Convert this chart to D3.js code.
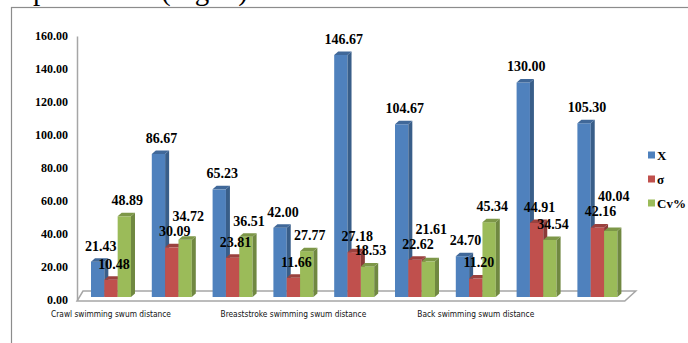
<!DOCTYPE html>
<html>
<head>
<meta charset="utf-8">
<script src="https://cdn.jsdelivr.net/npm/d3@7/dist/d3.min.js"></script>
<style>
  html, body { margin: 0; padding: 0; background: #fff; }
  svg { display: block; }
</style>
</head>
<body>
<svg id="chart" width="688" height="343"></svg>
<script>
// ---------- data ----------
const categories = [
  "Crawl swimming swum distance", "", "",
  "Breaststroke swimming swum distance", "", "",
  "Back swimming swum distance", "", ""
];
const seriesNames = ["X", "σ", "Cv%"];
const meanValues  = [21.43, 86.67, 65.23, 42.00, 146.67, 104.67, 24.70, 130.00, 105.30];
const sigmaValues = [10.48, 30.09, 23.81, 11.66, 27.18, 22.62, 11.20, 44.91, 42.16];
const cvValues    = [48.89, 34.72, 36.51, 27.77, 18.53, 21.61, 45.34, 34.54, 40.04];
const yTicks = [0, 20, 40, 60, 80, 100, 120, 140, 160];
const seriesColors = ["#4F81BD", "#C0504D", "#9BBB59"];

const seriesValues = [meanValues, sigmaValues, cvValues];

// ---------- setup ----------
const svg = d3.select("#chart");
const serif = "'Liberation Serif', 'Times New Roman', serif";

// page text fragment (cropped line above the chart)
svg.append("text").attr("x", 33).attr("y", 0)
  .attr("font-family", serif).attr("font-size", 29).text("presented");
svg.append("text").attr("x", 161).attr("y", 0)
  .attr("font-family", serif).attr("font-size", 29).text("(Fig. 3)");

// chart frame
svg.append("rect")
  .attr("x", 11.5).attr("y", 7.5).attr("width", 720).attr("height", 400)
  .attr("fill", "none").attr("stroke", "#8c8c8c").attr("stroke-width", 1.2);

const y = d3.scaleLinear().domain([0, 160]).range([300, 36]);
const x0 = d3.scaleBand().domain(d3.range(categories.length))
  .range([80.6, 627.8]).paddingInner(0.342).paddingOuter(0.171);
const x1 = d3.scaleBand().domain(d3.range(seriesNames.length))
  .range([0, x0.bandwidth()]);

const depthX = 4, depthY = -3.5, lift = 3;

// floor
const r = x0.range();
const floorPts = [
  [r[0] - 3.6, y(0) + 1], [r[1] - 3, y(0) + 1],
  [r[1] + 8, y(0) - 9], [r[0] + 2.4, y(0) - 9]
];
svg.append("polygon")
  .attr("points", floorPts.map(p => p.join(",")).join(" "))
  .attr("fill", "#fff").attr("stroke", "#a6a6a6").attr("stroke-width", 1.5);

// value axis
const yAxis = svg.append("g")
  .attr("transform", "translate(77,0)")
  .call(d3.axisLeft(y).tickValues(yTicks).tickFormat(d3.format(".2f"))
    .tickSize(0).tickPadding(9));
yAxis.select(".domain").attr("stroke", "#a6a6a6").attr("stroke-width", 1.5);
yAxis.selectAll("text")
  .attr("font-family", serif).attr("font-weight", "bold")
  .attr("font-size", 12).attr("fill", "#000");

// category axis
const xAxis = svg.append("g")
  .attr("transform", `translate(0,${y(0)})`)
  .call(d3.axisBottom(x0).tickFormat(i => categories[i]).tickSize(0).tickPadding(11));
xAxis.select(".domain").remove();
xAxis.selectAll("text")
  .attr("font-family", "'DejaVu Sans Condensed', 'DejaVu Sans', sans-serif")
  .attr("font-stretch", "condensed")
  .attr("font-size", 8.3).attr("fill", "#111");

// bars
const groups = svg.append("g").selectAll("g")
  .data(d3.range(categories.length)).join("g")
  .attr("transform", i => `translate(${x0(i)},0)`);

groups.each(function (i) {
  const g = d3.select(this);
  seriesValues.forEach((vals, s) => {
    const v = vals[i];
    const xl = x1(s), xr = x1(s) + x1.bandwidth();
    const yt = y(v) - lift, yb = y(0) - lift;
    const base = d3.color(seriesColors[s]);
    // front
    g.append("rect").attr("x", xl).attr("y", yt)
      .attr("width", x1.bandwidth()).attr("height", yb - yt)
      .attr("fill", base.formatHex());
    // side
    g.append("polygon")
      .attr("points", [[xr, yt], [xr + depthX, yt + depthY], [xr + depthX, yb + depthY], [xr, yb]]
        .map(p => p.join(",")).join(" "))
      .attr("fill", base.darker(0.9).formatHex());
    // top
    g.append("polygon")
      .attr("points", [[xl, yt], [xl + depthX, yt + depthY], [xr + depthX, yt + depthY], [xr, yt]]
        .map(p => p.join(",")).join(" "))
      .attr("fill", base.darker(0.6).formatHex());
  });
});

// data labels with simple collision avoidance inside each group
const labelLayer = svg.append("g");
d3.range(categories.length).forEach(i => {
  const placed = [];
  seriesValues.forEach((vals, s) => {
    const v = vals[i];
    const cx = x0(i) + x1(s) + x1.bandwidth() / 2 + 3;
    let cy = y(v) - lift - 16;
    const t = labelLayer.append("text")
      .attr("text-anchor", "middle")
      .attr("font-family", serif).attr("font-weight", "bold")
      .attr("font-size", 14).attr("fill", "#000")
      .text(d3.format(".2f")(v));
    const w = t.node().getComputedTextLength();
    let moved = true;
    while (moved) {
      moved = false;
      for (const p of placed) {
        if (Math.abs(cx - p.x) < (w + p.w) / 2 && Math.abs(cy - p.y) < 14) {
          cy = p.y - 15; moved = true;
        }
      }
    }
    placed.push({ x: cx, y: cy, w });
    t.attr("x", cx).attr("y", cy).attr("dy", "0.35em");
  });
});

// legend
const legend = svg.append("g").selectAll("g")
  .data(seriesNames).join("g")
  .attr("transform", (d, s) => `translate(648,${155 + s * 24})`);
legend.append("rect").attr("x", 0).attr("y", -3.5).attr("width", 7).attr("height", 7)
  .attr("fill", (d, s) => seriesColors[s]);
legend.append("text").attr("x", 9).attr("dy", "0.35em")
  .attr("font-family", serif).attr("font-weight", "bold").attr("font-size", 13)
  .attr("fill", "#000").text(d => d);
</script>
</body>
</html>
